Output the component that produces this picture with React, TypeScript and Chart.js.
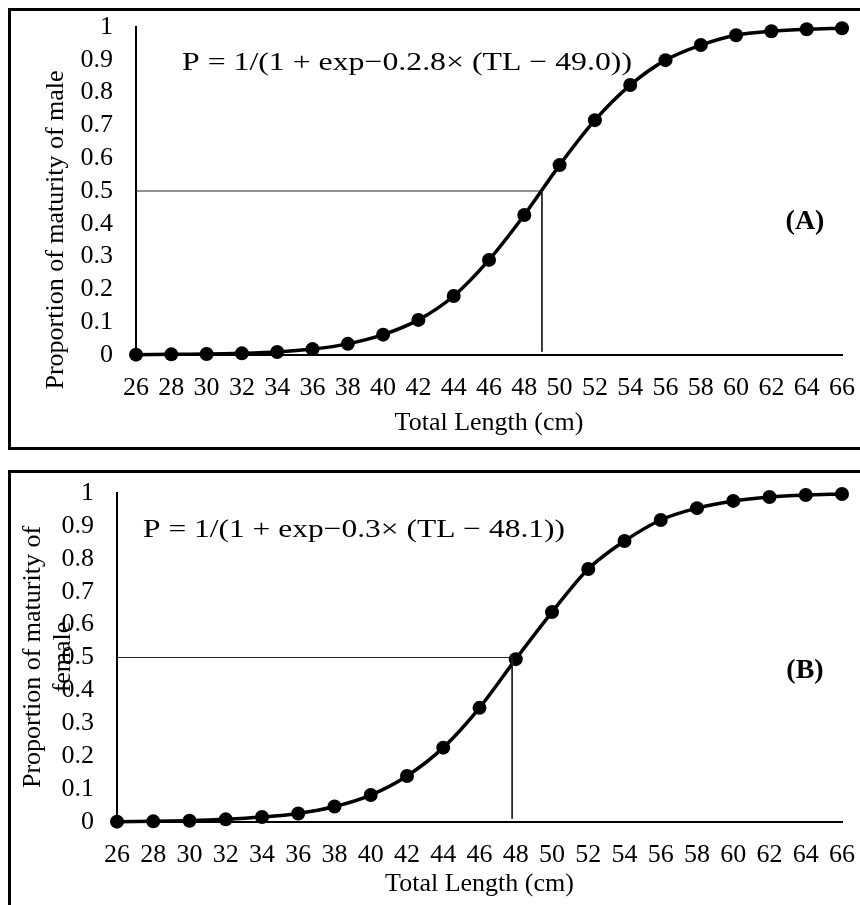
import React, { useEffect, useRef } from 'react';
import { Chart, registerables } from 'chart.js';

Chart.register(...registerables);

// ---- data ----
const lengths = [26, 28, 30, 32, 34, 36, 38, 40, 42, 44, 46, 48, 50, 52, 54, 56, 58, 60, 62, 64, 66];
const maleProportion = [0.001, 0.002, 0.003, 0.005, 0.009, 0.018, 0.034, 0.062, 0.107, 0.18, 0.29, 0.427, 0.579, 0.716, 0.823, 0.899, 0.945, 0.975, 0.987, 0.993, 0.996];
const femaleProportion = [0.001, 0.002, 0.004, 0.008, 0.015, 0.026, 0.047, 0.082, 0.14, 0.226, 0.347, 0.495, 0.638, 0.769, 0.854, 0.918, 0.954, 0.976, 0.988, 0.994, 0.997];
const maleL50 = 49.0;
const femaleL50 = 47.8;
const halfMaturity = 0.5;
const xRange = [26, 66];
const xStep = 2;
const yRange = [0, 1];
const yStep = 0.1;
const maleEquation = 'P = 1/(1 + exp\u22120.2.8\u00d7 (TL \u2212 49.0))';
const femaleEquation = 'P = 1/(1 + exp\u22120.3\u00d7 (TL \u2212 48.1))';
const maleYTitle = ['Proportion of maturity of male'];
const femaleYTitle = ['Proportion of maturity of', 'female'];
const xTitle = 'Total Length (cm)';

const FONT = '"Liberation Serif", "Times New Roman", serif';

type PanelCfg = {
  height: number;
  values: number[];
  l50: number;
  yScaleWidth: number;
  padTop: number;
  xScaleHeight: number;
  xTitlePadBottom: number;
  yTitle: string[];
  yTitleX: number[];
  yTitleY: number;
  equation: string;
  eqX: number;
  eqY: number;
  eqWidth: number;
  label: string;
  labelX: number;
  labelY: number;
};

function makeTextPlugin(p: PanelCfg) {
  return {
    id: 'panelText',
    afterDraw(chart: any) {
      const ctx: CanvasRenderingContext2D = chart.ctx;
      ctx.save();
      ctx.fillStyle = '#000';
      ctx.font = `26px ${FONT}`;
      ctx.textAlign = 'center';
      ctx.textBaseline = 'alphabetic';
      p.yTitle.forEach((line, i) => {
        ctx.save();
        ctx.translate(p.yTitleX[i], p.yTitleY);
        ctx.rotate(-Math.PI / 2);
        ctx.fillText(line, 0, 0);
        ctx.restore();
      });
      ctx.font = `26px ${FONT}`;
      ctx.textAlign = 'left';
      const w = ctx.measureText(p.equation).width;
      ctx.save();
      ctx.translate(p.eqX, p.eqY);
      ctx.scale(p.eqWidth / w, 1);
      ctx.fillText(p.equation, 0, 0);
      ctx.restore();
      ctx.font = `bold 28px ${FONT}`;
      ctx.textAlign = 'center';
      ctx.textBaseline = 'middle';
      ctx.fillText(p.label, p.labelX, p.labelY);
      ctx.restore();
    },
  };
}

function buildConfig(p: PanelCfg): any {
  const points = lengths.map((x, i) => ({ x, y: p.values[i] }));
  const refLine = [
    { x: xRange[0], y: halfMaturity },
    { x: p.l50, y: halfMaturity },
    { x: p.l50, y: 0.01 },
  ];
  return {
    type: 'line',
    data: {
      datasets: [
        {
          data: refLine,
          borderColor: '#222',
          borderWidth: 1,
          pointRadius: 0,
          tension: 0,
          clip: false,
        },
        {
          data: points,
          borderColor: '#000',
          backgroundColor: '#000',
          borderWidth: 3.5,
          pointRadius: 7,
          pointBackgroundColor: '#000',
          pointBorderWidth: 0,
          tension: 0.3,
          clip: false,
        },
      ],
    },
    options: {
      animation: false,
      responsive: false,
      events: [],
      layout: { autoPadding: false, padding: { left: 0, right: 18, top: p.padTop, bottom: 0 } },
      plugins: { legend: { display: false }, tooltip: { enabled: false } },
      scales: {
        x: {
          type: 'linear',
          min: xRange[0],
          max: xRange[1],
          grid: { display: false, drawTicks: false },
          border: { display: true, color: '#000', width: 2 },
          ticks: {
            stepSize: xStep,
            autoSkip: false,
            maxRotation: 0,
            padding: 18,
            color: '#000',
            font: { family: FONT, size: 26 },
          },
          title: {
            display: true,
            text: xTitle,
            color: '#000',
            font: { family: FONT, size: 26 },
            padding: { top: 0, bottom: p.xTitlePadBottom },
          },
          afterFit: (s: any) => {
            s.height = p.xScaleHeight;
            s.paddingLeft = 0;
            s.paddingRight = 0;
            s.paddingTop = 0;
            s.paddingBottom = 0;
          },
        },
        y: {
          type: 'linear',
          min: yRange[0],
          max: yRange[1],
          grid: { display: false, drawTicks: false },
          border: { display: true, color: '#000', width: 2 },
          ticks: {
            stepSize: yStep,
            autoSkip: false,
            padding: 23,
            color: '#000',
            font: { family: FONT, size: 26 },
            callback: (v: number) => String(Number(v.toFixed(1))),
          },
          afterFit: (s: any) => {
            s.width = p.yScaleWidth;
            s.paddingLeft = 0;
            s.paddingRight = 0;
            s.paddingTop = 0;
            s.paddingBottom = 0;
          },
        },
      },
    },
    plugins: [makeTextPlugin(p)],
  };
}

const panelA: PanelCfg = {
  height: 460,
  values: maleProportion,
  l50: maleL50,
  yScaleWidth: 136,
  padTop: 27,
  xScaleHeight: 105,
  xTitlePadBottom: 21,
  yTitle: maleYTitle,
  yTitleX: [63],
  yTitleY: 230,
  equation: maleEquation,
  eqX: 182,
  eqY: 70,
  eqWidth: 450,
  label: '(A)',
  labelX: 805,
  labelY: 222,
};

const panelB: PanelCfg = {
  height: 445,
  values: femaleProportion,
  l50: femaleL50,
  yScaleWidth: 117,
  padTop: 33,
  xScaleHeight: 83,
  xTitlePadBottom: 5,
  yTitle: femaleYTitle,
  yTitleX: [40, 70],
  yTitleY: 197,
  equation: femaleEquation,
  eqX: 143,
  eqY: 77,
  eqWidth: 422,
  label: '(B)',
  labelX: 805,
  labelY: 211,
};

function Panel({ cfg, top }: { cfg: PanelCfg; top: number }) {
  const ref = useRef<HTMLCanvasElement | null>(null);
  useEffect(() => {
    if (!ref.current) return;
    const chart = new Chart(ref.current, buildConfig(cfg));
    return () => chart.destroy();
  }, [cfg]);
  return (
    <canvas
      ref={ref}
      width={860}
      height={cfg.height}
      style={{ position: 'absolute', left: 0, top, width: 860, height: cfg.height }}
    />
  );
}

export default function App() {
  return (
    <div
      style={{
        position: 'fixed',
        left: 0,
        top: 0,
        width: 860,
        height: 905,
        background: '#fff',
        overflow: 'hidden',
      }}
    >
      <div
        style={{
          position: 'absolute',
          left: 8,
          top: 8,
          width: 900,
          height: 442,
          border: '3px solid #000',
          boxSizing: 'border-box',
        }}
      />
      <div
        style={{
          position: 'absolute',
          left: 8,
          top: 470,
          width: 900,
          height: 500,
          border: '3px solid #000',
          boxSizing: 'border-box',
        }}
      />
      <Panel cfg={panelA} top={0} />
      <Panel cfg={panelB} top={460} />
    </div>
  );
}
